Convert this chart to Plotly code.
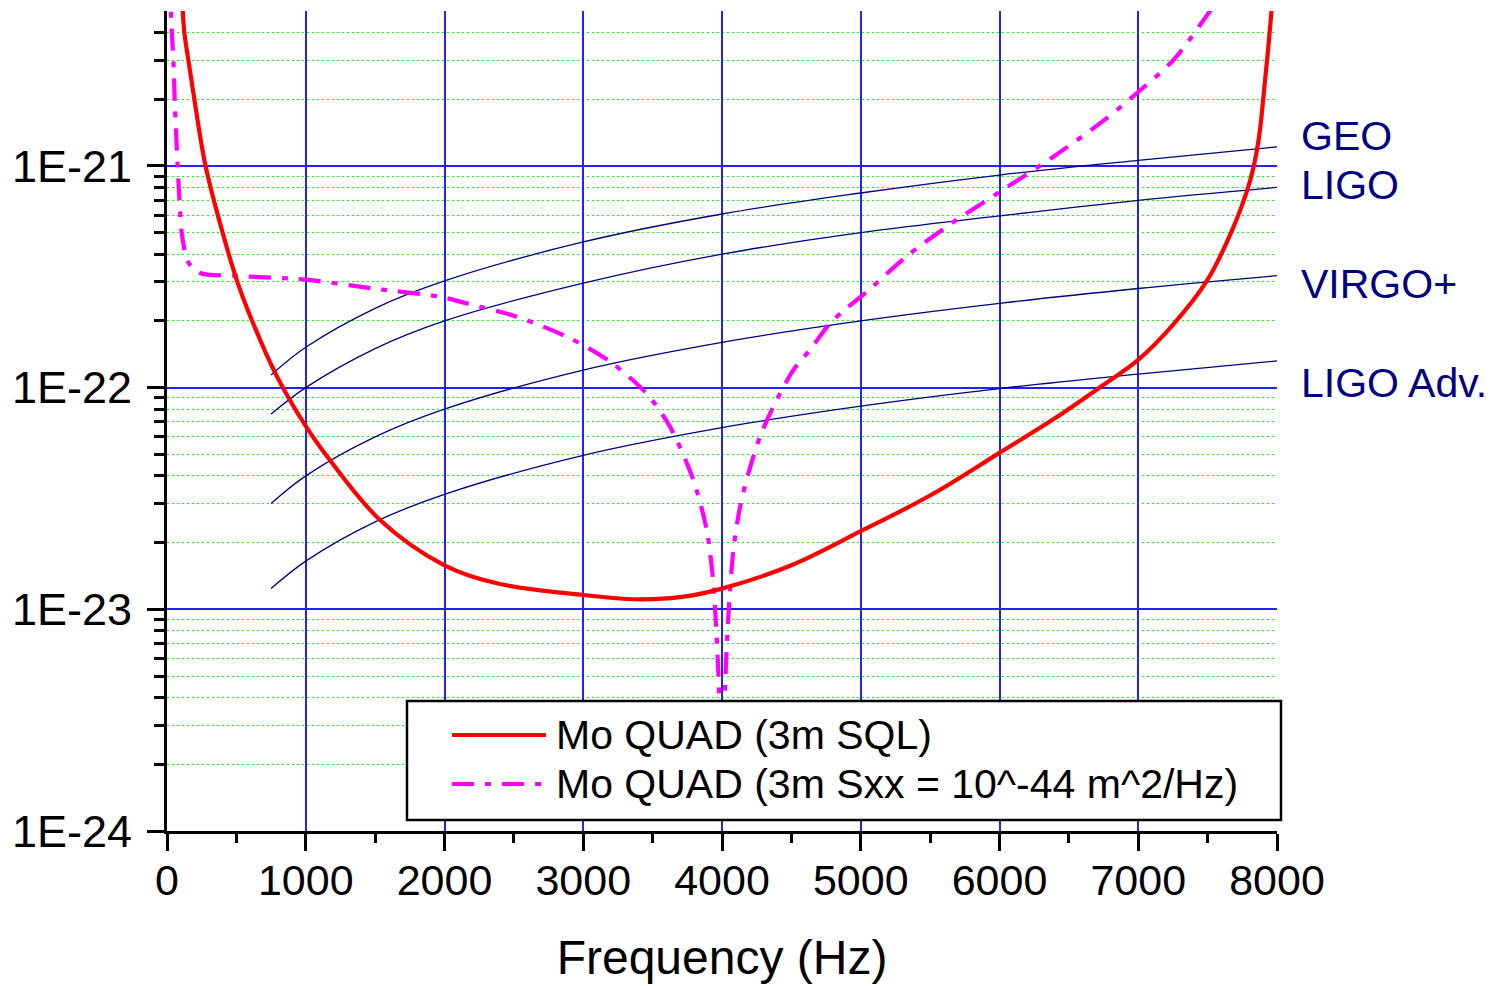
import math
import plotly.graph_objects as go

# ---------------- data ----------------
freq_sql = [100, 113, 125, 154, 197, 278, 401, 507, 600, 781, 1000, 1175, 1535, 2000, 2376,
            3000, 3387, 3723, 4000, 4500, 5000, 5499, 6000, 6413, 6750, 6997, 7253,
            7493, 7673, 7805, 7865, 7913, 7950, 7985]
h_sql = [6.5e-21, 5.0e-21, 4.0e-21, 3.0e-21, 2.0e-21, 1.0e-21, 5.0e-22, 3.0e-22, 2.1e-22,
         1.16e-22, 6.7e-23, 4.7e-23, 2.53e-23, 1.58e-23, 1.31e-23, 1.16e-23, 1.11e-23,
         1.14e-23, 1.24e-23, 1.58e-23, 2.25e-23, 3.26e-23, 5.08e-23, 7.37e-23, 1.03e-22,
         1.33e-22, 1.93e-22, 3.02e-22, 5.07e-22, 8.53e-22, 1.28e-21, 2.4e-21, 4.2e-21, 8.0e-21]

freq_sxx = [22, 30, 46, 58, 77, 94, 106, 151, 238, 502, 1000, 1486, 1967, 2160, 2520, 2905,
            3193, 3457, 3625, 3793, 3890, 3938, 3955, 3975, 4000, 4025, 4046, 4082, 4130,
            4190, 4274, 4370, 4514, 4634, 4778, 4897, 5041, 5330, 5643, 6000, 6388, 6750,
            6997, 7253, 7517, 7700]
h_sxx = [7.0e-21, 4.6e-21, 3.0e-21, 1.8e-21, 1.0e-21, 6.3e-22, 5.0e-22, 3.7e-22, 3.29e-22,
         3.19e-22, 3.07e-22, 2.8e-22, 2.57e-22, 2.4e-22, 2.09e-22, 1.67e-22, 1.31e-22,
         9.4e-23, 6.67e-23, 3.84e-23, 2.28e-23, 1.31e-23, 8.9e-24, 5.0e-24, 2.0e-24,
         5.0e-24, 9.3e-24, 1.85e-23, 2.9e-23, 4.1e-23, 6.0e-23, 8.2e-23, 1.2e-22, 1.48e-22,
         1.95e-22, 2.28e-22, 2.7e-22, 3.91e-22, 5.45e-22, 7.62e-22, 1.1e-21, 1.6e-21,
         2.15e-21, 3.0e-21, 5.0e-21, 7.5e-21]

freq_det = [750, 1000, 1500, 2000, 3000, 4000, 5000, 6000, 7000, 8000]
h_geo = [1.14e-22, 1.52e-22, 2.28e-22, 3.03e-22, 4.54e-22, 6.07e-22, 7.55e-22, 9.1e-22, 1.06e-21, 1.22e-21]
h_ligo = [7.6e-23, 1.0e-22, 1.5e-22, 2.0e-22, 2.96e-22, 4.0e-22, 5.0e-22, 5.95e-22, 7.0e-22, 8.0e-22]
h_virgo = [3.0e-23, 4.0e-23, 6.0e-23, 8.0e-23, 1.2e-22, 1.6e-22, 2.0e-22, 2.4e-22, 2.8e-22, 3.2e-22]
h_ligo_adv = [1.24e-23, 1.65e-23, 2.48e-23, 3.3e-23, 4.95e-23, 6.6e-23, 8.25e-23, 9.9e-23, 1.15e-22, 1.32e-22]

det_labels = ["GEO", "LIGO", "VIRGO+", "LIGO Adv."]
det_label_h = [1.365e-21, 8.2e-22, 2.94e-22, 1.05e-22]

legend_names = ["Mo QUAD (3m SQL)", "Mo QUAD (3m Sxx = 10^-44 m^2/Hz)"]

x_tickvals = [0, 1000, 2000, 3000, 4000, 5000, 6000, 7000, 8000]
x_ticktext = ["0", "1000", "2000", "3000", "4000", "5000", "6000", "7000", "8000"]
y_tickvals = [1e-24, 1e-23, 1e-22, 1e-21]
y_ticktext = ["1E-24", "1E-23", "1E-22", "1E-21"]
x_title = "Frequency (Hz)"

# ---------------- styles ----------------
FONT = "Liberation Sans, Arial, Helvetica, sans-serif"
RED = "#FF0000"
MAGENTA = "#FF00FF"
NAVY = "#000080"
GRID_BLUE = "#2222FF"
GRID_GREEN = "#00FF00"
DASHDOT = "22px,11px,6px,11px"

fig = go.Figure()

for h in [h_geo, h_ligo, h_virgo, h_ligo_adv]:
    fig.add_trace(go.Scatter(x=freq_det, y=h, mode="lines",
                             line=dict(color=NAVY, width=1.3, shape="spline"),
                             hoverinfo="skip", showlegend=False))

fig.add_trace(go.Scatter(x=freq_sxx, y=h_sxx, mode="lines", name=legend_names[1],
                         line=dict(color=MAGENTA, width=4.2, dash=DASHDOT,
                                   shape="spline", smoothing=0.8),
                         showlegend=False))
fig.add_trace(go.Scatter(x=freq_sql, y=h_sql, mode="lines", name=legend_names[0],
                         line=dict(color=RED, width=4.2, shape="spline", smoothing=1.0),
                         showlegend=False))

# minor y tick positions (2..9 of each decade)
minor_y = [m * 10.0 ** e for e in range(-24, -20) for m in range(2, 10)]
minor_y = [v for v in minor_y if v < 5e-21]

fig.update_xaxes(
    range=[0, 8000], tickmode="array", tickvals=x_tickvals, ticktext=x_ticktext,
    showline=True, linecolor="black", linewidth=3,
    ticks="outside", ticklen=17, tickwidth=3, tickcolor="black",
    showgrid=True, gridcolor=GRID_BLUE, gridwidth=1.5, zeroline=False,
    tickfont=dict(size=43, family=FONT, color="black"),
    ticklabelstandoff=-8,
    minor=dict(dtick=500, ticks="outside", ticklen=9, tickwidth=3, tickcolor="black",
               showgrid=False),
    title=dict(text=x_title, font=dict(size=48, family=FONT, color="black"), standoff=38),
)
fig.update_yaxes(
    type="log", range=[-24, math.log10(5e-21)], tickmode="array",
    tickvals=y_tickvals, ticktext=y_ticktext,
    showline=True, linecolor="black", linewidth=3,
    ticks="outside", ticklen=17, tickwidth=3, tickcolor="black",
    showgrid=True, gridcolor=GRID_BLUE, gridwidth=1.5, zeroline=False,
    tickfont=dict(size=45, family=FONT, color="black"),
    ticklabelstandoff=6,
    minor=dict(tickvals=minor_y, ticks="outside", ticklen=10, tickwidth=3,
               tickcolor="black", showgrid=True, gridcolor=GRID_GREEN,
               griddash="2px,3px", gridwidth=1),
)

# detector labels on the right
for lab, hv in zip(det_labels, det_label_h):
    fig.add_annotation(x=1.0198, xref="paper", y=math.log10(hv), yref="y",
                       text=lab, showarrow=False, xanchor="left", yanchor="middle",
                       font=dict(size=41, family=FONT, color=NAVY))

# legend box (drawn manually to match the original's long line samples)
fig.add_shape(type="rect", xref="paper", yref="paper", x0=0.2162, x1=1.0036,
              y0=0.0134, y1=0.1585, fillcolor="white",
              line=dict(color="black", width=2.5), layer="above")
fig.add_shape(type="line", xref="paper", yref="paper", x0=0.2568, x1=0.3414,
              y0=0.1171, y1=0.1171, line=dict(color=RED, width=4.2), layer="above")
fig.add_shape(type="line", xref="paper", yref="paper", x0=0.2568, x1=0.3414,
              y0=0.0573, y1=0.0573, line=dict(color=MAGENTA, width=4.2, dash=DASHDOT),
              layer="above")
for name, yy in zip(legend_names, [0.1171, 0.0573]):
    fig.add_annotation(x=0.3486, xref="paper", y=yy, yref="paper", text=name,
                       showarrow=False, xanchor="left", yanchor="middle",
                       font=dict(size=41, family=FONT, color="black"))

fig.update_layout(
    width=1494, height=986,
    margin=dict(l=167, r=217, t=11, b=155),
    plot_bgcolor="white", paper_bgcolor="white",
    showlegend=False,
    font=dict(family=FONT, color="black"),
)

fig.write_html("out.html", config={"displayModeBar": False},
               post_script="document.body.style.margin='0';")
